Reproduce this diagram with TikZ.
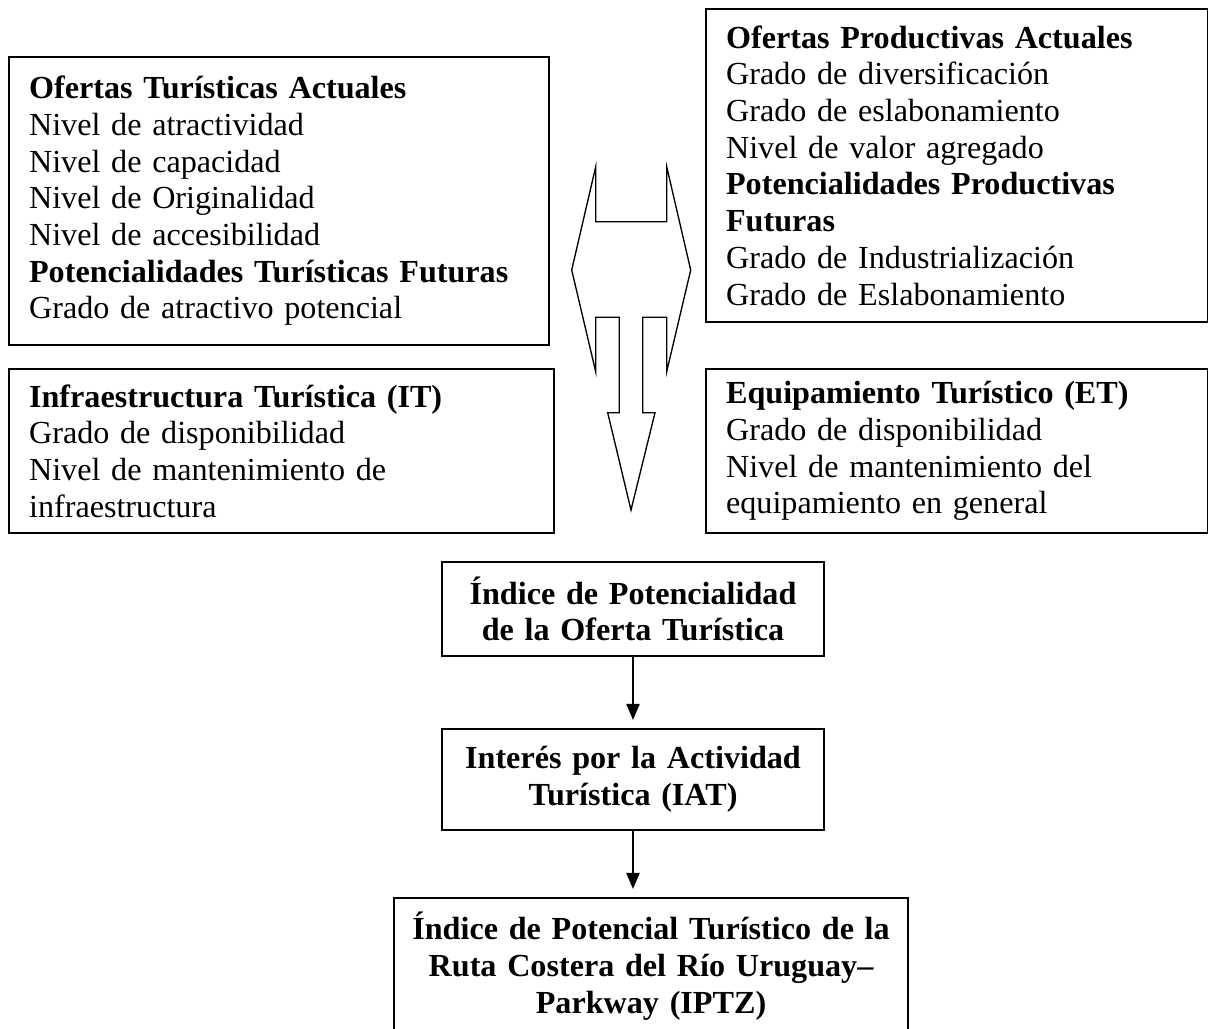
\documentclass[tikz,border=0pt]{standalone}
\usepackage{fontspec}
\setmainfont{Liberation Serif}
\usepackage{tikz}
\usetikzlibrary{arrows.meta}

\tikzset{
  caja/.style={draw, line width=0.75pt, anchor=north west, inner xsep=7.5pt, inner ysep=0pt, align=left},
  cajac/.style={draw, line width=0.75pt, anchor=north west, inner xsep=4pt, inner ysep=0pt, align=center, font=\fontsize{12}{13.7}\selectfont\bfseries},
  flecha/.style={line width=0.75pt, -{Triangle[length=6pt,width=4.9pt]}, shorten >=3pt}
}

\begin{document}
\begin{tikzpicture}[x=0.3733pt, y=-0.3733pt, font=\fontsize{12}{13.7}\selectfont]
            \useasboundingbox (0,0) rectangle (1208,1028);
            \clip (0,0) rectangle (1208,1028);
            % cuadros de arriba
            \node[caja, text width=186.6pt, minimum height=107.5pt] (ofertaTur) at (8,56)
                 {\textbf{Ofertas Turísticas Actuales}\\ Nivel de atractividad\\ Nivel de capacidad\\ Nivel de Originalidad\\
                  Nivel de accesibilidad\\ \textbf{Potencialidades Turísticas Futuras}\\ Grado de atractivo potencial};
            \node[caja, text width=172.4pt, minimum height=116.8pt] (ofertaProd) at (705,8)
                 {\textbf{Ofertas Productivas Actuales}\\ Grado de diversificación\\ Grado de eslabonamiento\\ Nivel de valor agregado\\
                  \textbf{Potencialidades Productivas}\\ \textbf{Futuras}\\ Grado de Industrialización\\ Grado de Eslabonamiento};
            \node[caja, text width=188.5pt, minimum height=61.2pt] (infraTur) at (8,368)
                 {\textbf{Infraestructura Turística (IT)}\\ Grado de disponibilidad\\ Nivel de mantenimiento de\\ infraestructura};
            \node[caja, text width=172.4pt, minimum height=61.2pt] (equipTur) at (705,368)
                 {\textbf{Equipamiento Turístico (ET)}\\ Grado de disponibilidad\\ Nivel de mantenimiento del\\ equipamiento en general};
            % flecha doble del medio
            \draw[line width=0.5pt, line join=miter] (595.7,166.7) -- (595.7,221.7) -- (666.7,221.7) -- (666.7,166.7) -- (690.7,270)
                 -- (666.7,371.7) -- (666.7,317.3) -- (642.7,317.3) -- (642.7,412.7) -- (655,412.7) -- (631,510)
                 -- (607.7,412.7) -- (619.3,412.7) -- (619.3,317.3) -- (595.7,317.3) -- (595.7,371.7) -- (571.7,270) -- cycle;
            % indices
            \node[cajac, text width=134.6pt, minimum height=35.1pt] (indiceOferta) at (441,561)
                 {Índice de Potencialidad\\ de la Oferta Turística};
            \node[cajac, text width=134.6pt, minimum height=37.7pt] (interesAct) at (441,728)
                 {Interés por la Actividad\\ Turística (IAT)};
            \node[cajac, text width=183.9pt, minimum height=50.8pt] (indicePot) at (393,897)
                 {Índice de Potencial Turístico de la\\ Ruta Costera del Río Uruguay–\\ Parkway (IPTZ)};
            \draw[flecha] (indiceOferta.south) -- (interesAct.north);
            \draw[flecha] (interesAct.south) -- (interesAct.south |- indicePot.north);
\end{tikzpicture}
\end{document}
